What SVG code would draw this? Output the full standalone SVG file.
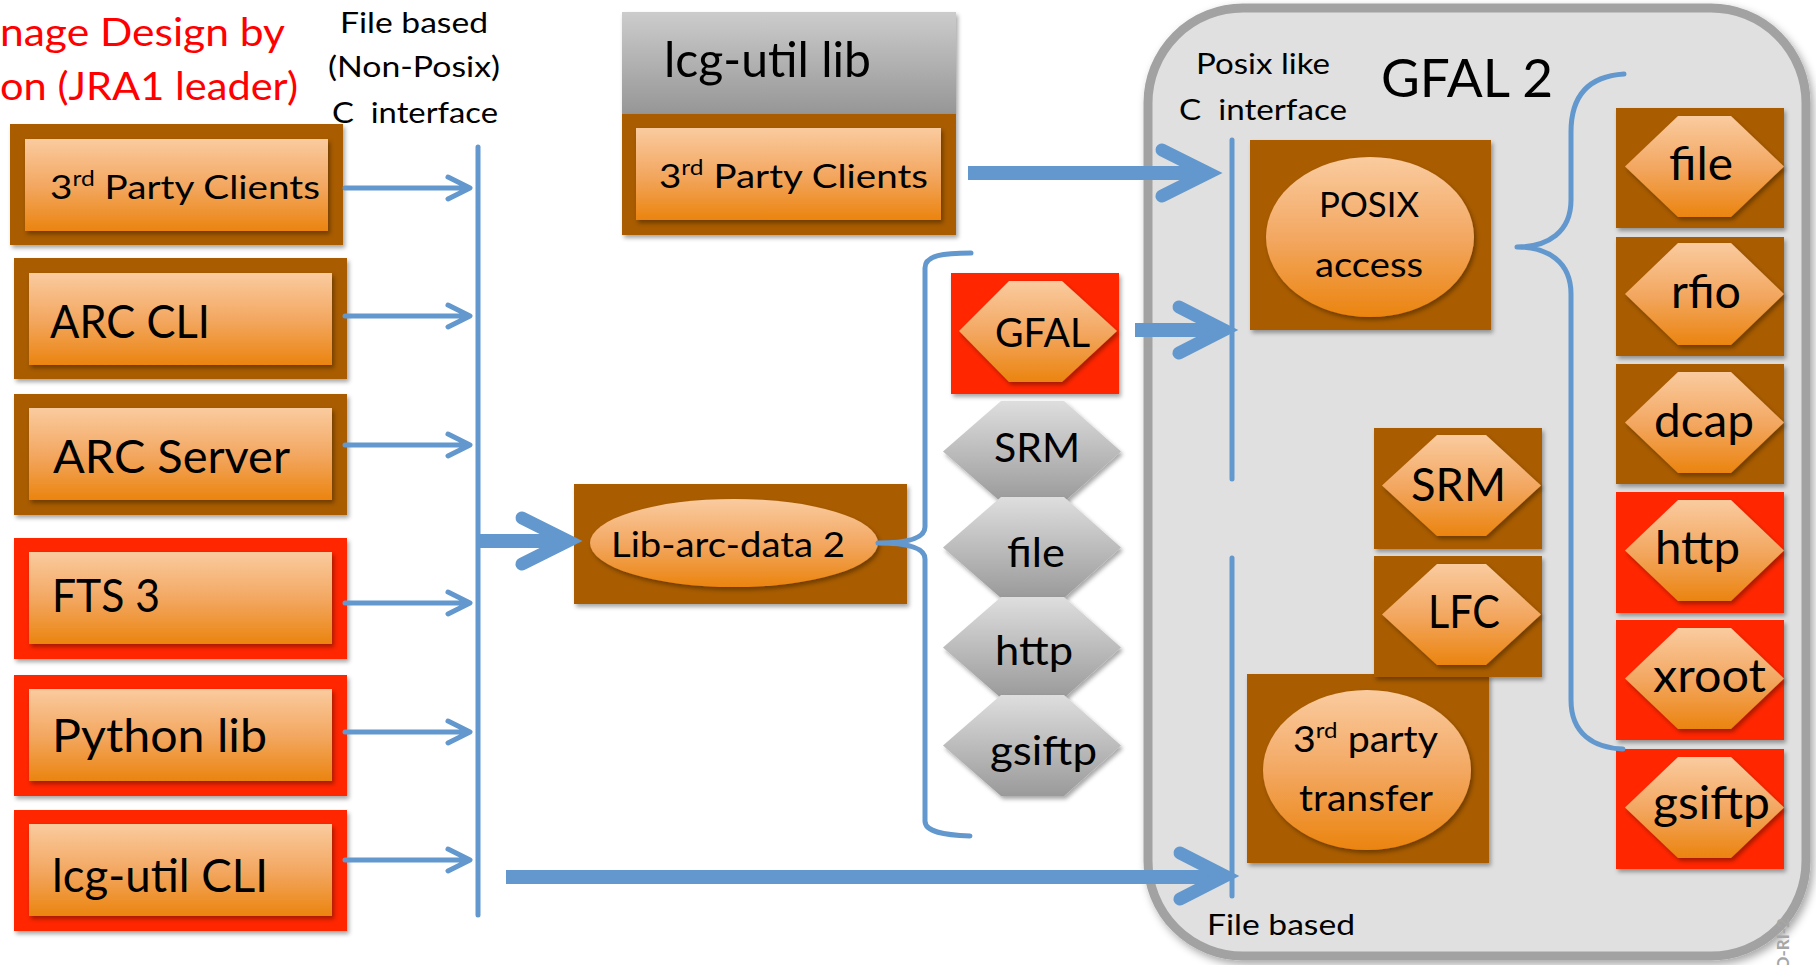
<svg xmlns="http://www.w3.org/2000/svg" width="1816" height="965" viewBox="0 0 1816 965">
<defs>
<linearGradient id="gOr" x1="0" y1="0" x2="0" y2="1"><stop offset="0" stop-color="#FACB9F"/><stop offset="0.5" stop-color="#F3A862"/><stop offset="1" stop-color="#EB840F"/></linearGradient>
<linearGradient id="gGr" x1="0" y1="0" x2="0" y2="1"><stop offset="0" stop-color="#DEDEDE"/><stop offset="1" stop-color="#9A9A9A"/></linearGradient>
<linearGradient id="gHd" x1="0" y1="0" x2="0" y2="1"><stop offset="0" stop-color="#CCCCCC"/><stop offset="1" stop-color="#969696"/></linearGradient>
<filter id="sh" x="-10%" y="-10%" width="125%" height="130%"><feDropShadow dx="2" dy="3" stdDeviation="2" flood-color="#000" flood-opacity="0.35"/></filter>
<filter id="shc" x="-5%" y="-5%" width="112%" height="112%"><feDropShadow dx="3" dy="4" stdDeviation="4" flood-color="#000" flood-opacity="0.35"/></filter>
<style>
.br{fill:#A95B00}
.rd{fill:#FF2600}
.or{fill:url(#gOr)}
.gr{fill:url(#gGr)}
.t{font-family:Lato,"Open Sans","Liberation Sans",sans-serif;fill:#000}
.red{fill:#FF0000}
.c{stroke:#6298CD;fill:none;stroke-linecap:round;stroke-linejoin:round}
.thin{stroke-width:5}
.thick{stroke-width:14;stroke-linecap:butt}
.head{stroke-width:13;stroke-linejoin:miter;stroke-miterlimit:10}
.s{filter:url(#sh)}
</style>
</defs>
<rect width="1816" height="965" fill="#FFFFFF"/>

<g id="labels">
<text class="t red" x="0" y="46" font-size="38" textLength="285" lengthAdjust="spacingAndGlyphs">nage Design by</text>
<text class="t red" x="0" y="100" font-size="38" textLength="298" lengthAdjust="spacingAndGlyphs">on (JRA1 leader)</text>
<text class="t" x="340" y="33" font-size="29" textLength="148" lengthAdjust="spacingAndGlyphs">File based</text>
<text class="t" x="328" y="77" font-size="29" textLength="172" lengthAdjust="spacingAndGlyphs">(Non-Posix)</text>
<text class="t" x="332" y="123" font-size="29" xml:space="preserve" textLength="166" lengthAdjust="spacingAndGlyphs">C  interface</text>
</g>

<g id="n-gfal2">
<rect x="1148" y="8" width="658" height="948" rx="95" fill="#E0E0E0" stroke="#A2A2A2" stroke-width="9" filter="url(#shc)"/>
<text class="t" x="1381" y="97" font-size="52" textLength="172" lengthAdjust="spacingAndGlyphs">GFAL 2</text>
<text class="t" x="1196" y="74" font-size="29" textLength="134" lengthAdjust="spacingAndGlyphs">Posix like</text>
<text class="t" x="1179" y="120" font-size="29" xml:space="preserve" textLength="168" lengthAdjust="spacingAndGlyphs">C  interface</text>
<text class="t" x="1207" y="935" font-size="29" textLength="148" lengthAdjust="spacingAndGlyphs">File based</text>
<text x="0" y="0" transform="translate(1789,918) rotate(-90)" text-anchor="end" font-family="Lato,'Liberation Sans',sans-serif" font-weight="bold" font-size="17" fill="#A6A6A6">O-RI-2</text>
</g>

<g id="n-3rd-party-clients-left">
<rect class="br s" x="10" y="124" width="333" height="121"/>
<rect class="or s" x="25" y="139" width="303" height="92"/>
<text class="t" x="50" y="199" font-size="33" textLength="270" lengthAdjust="spacingAndGlyphs">3<tspan font-size="21" dy="-13">rd</tspan><tspan dy="13"> Party Clients</tspan></text>
</g>
<g id="n-arc-cli">
<rect class="br s" x="14" y="258" width="333" height="121"/>
<rect class="or s" x="29" y="273" width="303" height="92"/>
<text class="t" x="50" y="338" font-size="46" textLength="160" lengthAdjust="spacingAndGlyphs">ARC CLI</text>
</g>
<g id="n-arc-server">
<rect class="br s" x="14" y="394" width="333" height="121"/>
<rect class="or s" x="29" y="408" width="303" height="92"/>
<text class="t" x="53" y="473" font-size="46" textLength="237" lengthAdjust="spacingAndGlyphs">ARC Server</text>
</g>
<g id="n-fts3">
<rect class="rd s" x="14" y="538" width="333" height="121"/>
<rect class="or s" x="29" y="552" width="303" height="92"/>
<text class="t" x="52" y="612" font-size="46" textLength="108" lengthAdjust="spacingAndGlyphs">FTS 3</text>
</g>
<g id="n-python-lib">
<rect class="rd s" x="14" y="675" width="333" height="121"/>
<rect class="or s" x="29" y="689" width="303" height="92"/>
<text class="t" x="52" y="752" font-size="46" textLength="215" lengthAdjust="spacingAndGlyphs">Python lib</text>
</g>
<g id="n-lcg-util-cli">
<rect class="rd s" x="14" y="810" width="333" height="121"/>
<rect class="or s" x="29" y="824" width="303" height="92"/>
<text class="t" x="52" y="892" font-size="46" textLength="216" lengthAdjust="spacingAndGlyphs">lcg-util CLI</text>
</g>

<g id="n-lcg-util-lib">
<rect x="622" y="12" width="334" height="102" fill="url(#gHd)" class="s"/>
<rect class="br s" x="622" y="114" width="334" height="121"/>
<rect class="or s" x="636" y="128" width="305" height="92"/>
<text class="t" x="664" y="77" font-size="48" textLength="207" lengthAdjust="spacingAndGlyphs">lcg-util lib</text>
<text class="t" x="659" y="188" font-size="33" textLength="269" lengthAdjust="spacingAndGlyphs">3<tspan font-size="21" dy="-13">rd</tspan><tspan dy="13"> Party Clients</tspan></text>
</g>

<g id="n-lib-arc-data-2">
<rect class="br s" x="574" y="484" width="333" height="120"/>
<ellipse class="or s" cx="734" cy="543" rx="144" ry="44"/>
<text class="t" x="611" y="557" font-size="34" textLength="234" lengthAdjust="spacingAndGlyphs">Lib-arc-data 2</text>
</g>

<g id="n-gfal">
<rect class="rd s" x="951" y="273" width="168" height="121"/>
<polygon class="or s" points="959,331 1009,281 1062,281 1117,331 1062,382 1009,382"/>
<text class="t" x="995" y="347" font-size="41" textLength="95" lengthAdjust="spacingAndGlyphs">GFAL</text>
</g>
<g id="n-srm-arc">
<polygon class="gr s" points="943,451.5 1001,401 1064,401 1121,451.5 1064,502 1001,502"/>
<text class="t" x="994" y="462" font-size="40" textLength="86" lengthAdjust="spacingAndGlyphs">SRM</text>
</g>
<g id="n-file-arc">
<polygon class="gr s" points="943,547.5 1001,497 1064,497 1121,547.5 1064,598 1001,598"/>
<text class="t" x="1007" y="567" font-size="40" textLength="58" lengthAdjust="spacingAndGlyphs">file</text>
</g>
<g id="n-http-arc">
<polygon class="gr s" points="943,647.5 1001,597 1064,597 1121,647.5 1064,698 1001,698"/>
<text class="t" x="995" y="665" font-size="40" textLength="78" lengthAdjust="spacingAndGlyphs">http</text>
</g>
<g id="n-gsiftp-arc">
<polygon class="gr s" points="943,745.5 1001,695 1064,695 1121,745.5 1064,796 1001,796"/>
<text class="t" x="990" y="765" font-size="40" textLength="107" lengthAdjust="spacingAndGlyphs">gsiftp</text>
</g>

<g id="n-posix-access">
<rect class="br s" x="1250" y="140" width="241" height="190"/>
<ellipse class="or s" cx="1370" cy="237" rx="104" ry="80"/>
<text class="t" x="1319" y="217" font-size="35" textLength="100" lengthAdjust="spacingAndGlyphs">POSIX</text>
<text class="t" x="1315" y="277" font-size="35" textLength="108" lengthAdjust="spacingAndGlyphs">access</text>
</g>

<g id="n-3rd-party-transfer">
<rect class="br s" x="1247" y="674" width="242" height="189"/>
<ellipse class="or s" cx="1367" cy="770" rx="104" ry="80"/>
<text class="t" x="1293" y="752" font-size="36" textLength="145" lengthAdjust="spacingAndGlyphs">3<tspan font-size="22" dy="-14">rd</tspan><tspan dy="14"> party</tspan></text>
<text class="t" x="1299" y="811" font-size="36" textLength="134" lengthAdjust="spacingAndGlyphs">transfer</text>
</g>
<g id="n-srm">
<rect class="br s" x="1374" y="428" width="168" height="121"/>
<polygon class="or s" points="1382,485.5 1437,435 1486,435 1541,485.5 1486,536 1437,536"/>
<text class="t" x="1411" y="501" font-size="46" textLength="95" lengthAdjust="spacingAndGlyphs">SRM</text>
</g>
<g id="n-lfc">
<rect class="br s" x="1374" y="556" width="168" height="121"/>
<polygon class="or s" points="1382,614.5 1437,564 1486,564 1541,614.5 1486,665 1437,665"/>
<text class="t" x="1428" y="628" font-size="46" textLength="72" lengthAdjust="spacingAndGlyphs">LFC</text>
</g>

<g id="n-file">
<rect class="br s" x="1616" y="108" width="168" height="120"/>
<polygon class="or s" points="1625,166.5 1678,116 1731,116 1784,166.5 1731,217 1678,217"/>
<text class="t" x="1669" y="180" font-size="46" textLength="64" lengthAdjust="spacingAndGlyphs">file</text>
</g>
<g id="n-rfio">
<rect class="br s" x="1616" y="237" width="168" height="119"/>
<polygon class="or s" points="1625,294 1678,243 1731,243 1784,294 1731,345 1678,345"/>
<text class="t" x="1671" y="308" font-size="46" textLength="70" lengthAdjust="spacingAndGlyphs">rfio</text>
</g>
<g id="n-dcap">
<rect class="br s" x="1616" y="364" width="168" height="120"/>
<polygon class="or s" points="1625,422.5 1678,372 1731,372 1784,422.5 1731,473 1678,473"/>
<text class="t" x="1654" y="437" font-size="46" textLength="100" lengthAdjust="spacingAndGlyphs">dcap</text>
</g>
<g id="n-http">
<rect class="rd s" x="1616" y="492" width="168" height="121"/>
<polygon class="or s" points="1625,550.5 1678,500 1731,500 1784,550.5 1731,601 1678,601"/>
<text class="t" x="1655" y="564" font-size="46" textLength="85" lengthAdjust="spacingAndGlyphs">http</text>
</g>
<g id="n-xroot">
<rect class="rd s" x="1616" y="620" width="168" height="120"/>
<polygon class="or s" points="1625,678.5 1678,628 1731,628 1784,678.5 1731,729 1678,729"/>
<text class="t" x="1653" y="692" font-size="46" textLength="113" lengthAdjust="spacingAndGlyphs">xroot</text>
</g>
<g id="n-gsiftp">
<rect class="rd s" x="1616" y="749" width="168" height="120"/>
<polygon class="or s" points="1625,807.5 1678,757 1731,757 1784,807.5 1731,858 1678,858"/>
<text class="t" x="1653" y="819" font-size="46" textLength="117" lengthAdjust="spacingAndGlyphs">gsiftp</text>
</g>

<g id="connectors">
<line class="c thin" x1="478" y1="147" x2="478" y2="915"/>
<path class="c thin" d="M345,188 H469 M448,177 L470,188 L448,199"/>
<path class="c thin" d="M345,316 H469 M448,305 L470,316 L448,327"/>
<path class="c thin" d="M345,445 H469 M448,434 L470,445 L448,456"/>
<path class="c thin" d="M345,603 H469 M448,592 L470,603 L448,614"/>
<path class="c thin" d="M345,732 H469 M448,721 L470,732 L448,743"/>
<path class="c thin" d="M345,860 H469 M448,849 L470,860 L448,871"/>
<line class="c thick" x1="478" y1="541" x2="566" y2="541"/>
<path class="c head" d="M522,518 L568,541 L522,564"/>
<line class="c thick" x1="968" y1="173" x2="1206" y2="173"/>
<path class="c head" d="M1162,150 L1208,173 L1162,196"/>
<line class="c thick" x1="1135" y1="330" x2="1222" y2="330"/>
<path class="c head" d="M1179,307 L1224,330 L1179,353"/>
<line class="c thick" x1="506" y1="877" x2="1224" y2="877"/>
<path class="c head" d="M1180,853 L1225,876 L1180,899"/>
<line class="c thin" x1="1232" y1="140" x2="1232" y2="479"/>
<line class="c thin" x1="1232" y1="558" x2="1232" y2="896"/>
<path class="c thin" d="M971,253 C944,253 925,255 925,268 L925,527 C925,539 905,543 878,543 C905,543 925,547 925,559 L925,821 C925,832 944,835 970,836"/>
<path class="c thin" d="M1624,74 C1592,76 1571,92 1571,132 L1571,200 C1571,232 1548,247 1517,247 C1548,247 1571,262 1571,294 L1571,700 C1571,734 1594,748 1623,749"/>
</g>
</svg>
